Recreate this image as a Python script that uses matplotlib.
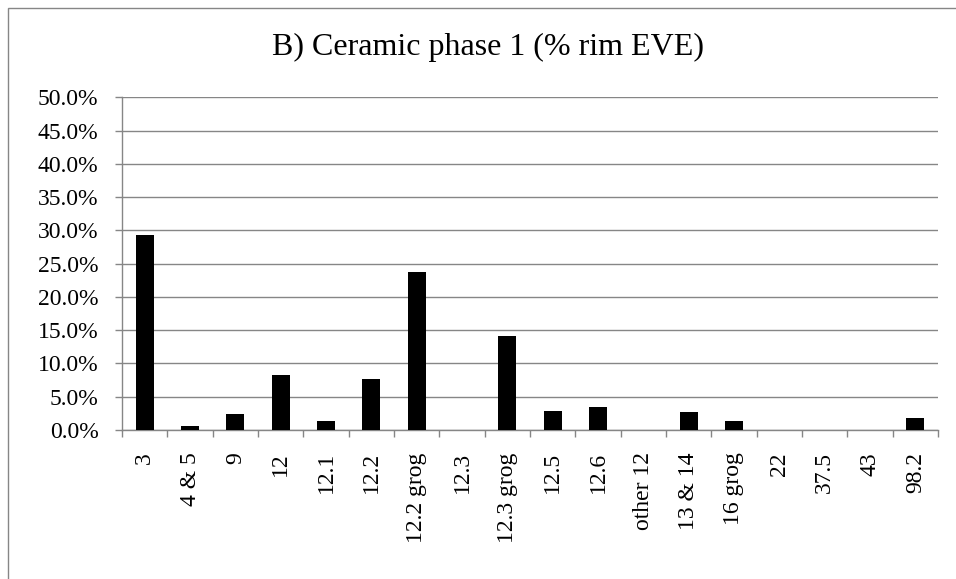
import matplotlib
matplotlib.use("Agg")
import matplotlib.pyplot as plt
from matplotlib.patches import Rectangle
from matplotlib.ticker import FuncFormatter, FixedLocator
import numpy as np

categories = ["3", "4 & 5", "9", "12", "12.1", "12.2", "12.2 grog", "12.3",
              "12.3 grog", "12.5", "12.6", "other 12", "13 & 14", "16 grog",
              "22", "37.5", "43", "98.2"]
values = [29.3, 0.6, 2.4, 8.3, 1.4, 7.6, 23.7, 0.0,
          14.2, 2.9, 3.5, 0.0, 2.7, 1.3,
          0.0, 0.0, 0.0, 1.8]
title = "B) Ceramic phase 1 (% rim EVE)"
yticks = [0, 5, 10, 15, 20, 25, 30, 35, 40, 45, 50]

plt.rcParams['font.family'] = ['Liberation Serif', 'DejaVu Serif']

W, H = 956, 579
fig = plt.figure(figsize=(W / 100, H / 100), dpi=100)

# outer chart frame (only left/top visible)
fig.patches.append(Rectangle((7.5 / W, -0.1), 1.2, 1 - 8 / H + 0.1,
                             transform=fig.transFigure, fill=False,
                             edgecolor='#868686', linewidth=1.0))

ax = fig.add_axes([122.0 / W, 1 - 430 / H, (938 - 122.0) / W, (430 - 97.3) / H])
gray = '#868686'
x = np.arange(len(categories))
ax.bar(x, values, width=0.4, color='black', zorder=3)
ax.set_xlim(-0.5, len(categories) - 0.5)
ax.set_ylim(0, 50)
ax.yaxis.set_major_locator(FixedLocator(yticks))
ax.yaxis.set_major_formatter(FuncFormatter(lambda v, p: f"{v:.1f}%"))
ax.grid(axis='y', color=gray, linewidth=1.0, zorder=0)
for s in ['top', 'right']:
    ax.spines[s].set_visible(False)
for s in ['left', 'bottom']:
    ax.spines[s].set_color(gray)
    ax.spines[s].set_linewidth(1.0)

ax.set_xticks(x)
ax.set_xticklabels(categories, rotation=90, va='top', ha='center')
ax.tick_params(axis='x', which='major', length=0, pad=16, labelsize=17)
ax.set_xticks(np.arange(len(categories) + 1) - 0.5, minor=True)
ax.tick_params(axis='x', which='minor', length=5, color=gray, width=1)
ax.tick_params(axis='y', length=5, color=gray, width=1, labelsize=17, pad=12)

fig.text(488 / W, 1 - 47 / H, title, ha='center', va='center', fontsize=23)

fig.savefig("out.png", dpi=100)
